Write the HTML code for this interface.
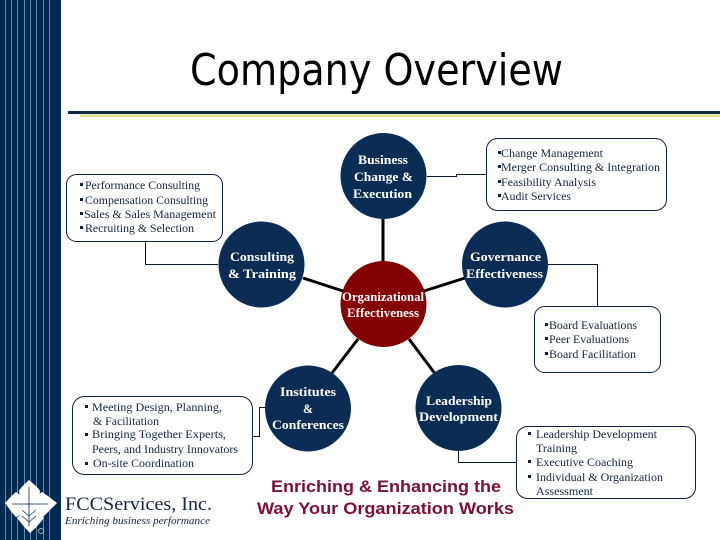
<!DOCTYPE html>
<html lang="en">
<head>
<meta charset="utf-8">
<title>Company Overview</title>
<style>
html,body{margin:0;padding:0;background:#fff;width:720px;height:540px;overflow:hidden}
svg{display:block}
.t{font-family:"Liberation Serif",serif;font-size:11.5px;fill:#14263e}
.c{font-family:"Liberation Serif",serif;font-size:13px;font-weight:bold;fill:#fff}
.s{font-family:"Liberation Sans",sans-serif;font-size:17px;font-weight:bold;fill:#7a0f3d}
.box{fill:#fff;stroke:#0d2340;stroke-width:1}
.thin{fill:none;stroke:#071a30;stroke-width:1}
.thick{fill:none;stroke:#000;stroke-width:3}
</style>
</head>
<body>
<svg xmlns="http://www.w3.org/2000/svg" width="720" height="540" viewBox="0 0 720 540">
<rect width="720" height="540" fill="#fff"/>
<rect x="0" y="0" width="61" height="540" fill="#012a52"/>
<g fill="#5f86ab">
<rect x="5" y="0" width="1" height="540"/><rect x="11" y="0" width="1" height="540"/>
<rect x="17" y="0" width="1" height="540"/><rect x="24" y="0" width="1" height="540"/>
<rect x="30" y="0" width="1" height="540"/><rect x="36" y="0" width="1" height="540"/>
<rect x="43" y="0" width="1" height="540"/><rect x="49" y="0" width="1" height="540"/>
</g>

<text x="190" y="85" font-family="'DejaVu Sans',sans-serif" font-size="44" fill="#000" textLength="373" lengthAdjust="spacingAndGlyphs">Company Overview</text>
<rect x="68" y="111" width="652" height="3" fill="#0e2a42"/>
<rect x="80" y="114.5" width="640" height="2.5" fill="#e0e188"/>

<!-- thin connectors -->
<path class="thin" d="M145.5 241V264.5H218"/>
<path class="thin" d="M427 176.5H456.5V174.5H486"/>
<path class="thin" d="M548 264.5H597.5V306"/>
<path class="thin" d="M253 436.5H259.5V407.5H266"/>
<path class="thin" d="M458.5 451V462.5H516"/>

<!-- thick spokes -->
<path class="thick" d="M383 219V262"/>
<path class="thick" d="M303 278L343 291"/>
<path class="thick" d="M465 278L424 291"/>
<path class="thick" d="M358 339L332 373"/>
<path class="thick" d="M409 339L436 375"/>

<!-- circles -->
<g fill="#0a2c55">
<circle cx="383.5" cy="176" r="43"/>
<circle cx="261.5" cy="264.5" r="43"/>
<circle cx="505" cy="264.5" r="43"/>
<circle cx="308" cy="408.5" r="43"/>
<circle cx="458.5" cy="408" r="43"/>
</g>
<circle cx="383.5" cy="304" r="43" fill="#850000"/>

<!-- boxes -->
<rect class="box" x="66.5" y="174.5" width="156" height="67" rx="10"/>
<rect class="box" x="486.5" y="138.5" width="180" height="72" rx="11"/>
<rect class="box" x="534.5" y="306.5" width="126" height="66" rx="10"/>
<rect class="box" x="72.5" y="396.5" width="180" height="78" rx="12"/>
<rect class="box" x="516.5" y="426.5" width="179" height="72" rx="11"/>

<!-- circle labels -->
<text class="c" x="358" y="164" textLength="50" lengthAdjust="spacingAndGlyphs">Business</text>
<text class="c" x="354" y="181" textLength="59" lengthAdjust="spacingAndGlyphs">Change &amp;</text>
<text class="c" x="353" y="198" textLength="59" lengthAdjust="spacingAndGlyphs">Execution</text>
<text class="c" x="230" y="261" textLength="64" lengthAdjust="spacingAndGlyphs">Consulting</text>
<text class="c" x="228" y="278" textLength="68" lengthAdjust="spacingAndGlyphs">&amp; Training</text>
<text class="c" x="470" y="261" textLength="71" lengthAdjust="spacingAndGlyphs">Governance</text>
<text class="c" x="466" y="278" textLength="77" lengthAdjust="spacingAndGlyphs">Effectiveness</text>
<text class="c" x="342" y="301" textLength="82" lengthAdjust="spacingAndGlyphs">Organizational</text>
<text class="c" x="347" y="317" textLength="72" lengthAdjust="spacingAndGlyphs">Effectiveness</text>
<text class="c" x="280" y="396" textLength="56" lengthAdjust="spacingAndGlyphs">Institutes</text>
<text class="c" x="303" y="413" textLength="10" lengthAdjust="spacingAndGlyphs">&amp;</text>
<text class="c" x="272" y="429" textLength="72" lengthAdjust="spacingAndGlyphs">Conferences</text>
<text class="c" x="426" y="405" textLength="66" lengthAdjust="spacingAndGlyphs">Leadership</text>
<text class="c" x="419" y="421" textLength="79" lengthAdjust="spacingAndGlyphs">Development</text>

<!-- bullets -->
<g fill="#0d2038">
<rect x="80" y="183" width="3" height="3"/><rect x="80" y="198" width="3" height="3"/><rect x="80" y="212" width="3" height="3"/><rect x="80" y="226" width="3" height="3"/>
<rect x="498" y="151" width="3" height="3"/><rect x="498" y="165" width="3" height="3"/><rect x="498" y="180" width="3" height="3"/><rect x="498" y="194" width="3" height="3"/>
<rect x="545" y="323" width="3" height="3"/><rect x="545" y="337" width="3" height="3"/><rect x="545" y="352" width="3" height="3"/>
<rect x="85" y="405" width="3" height="3"/><rect x="85" y="433" width="3" height="3"/><rect x="85" y="462" width="3" height="3"/>
<rect x="528" y="432" width="3" height="3"/><rect x="528" y="460" width="3" height="3"/><rect x="528" y="475" width="3" height="3"/>
</g>

<!-- box text -->
<text class="t" x="85" y="189" textLength="115" lengthAdjust="spacingAndGlyphs">Performance Consulting</text>
<text class="t" x="85" y="204" textLength="123" lengthAdjust="spacingAndGlyphs">Compensation Consulting</text>
<text class="t" x="84" y="218" textLength="132" lengthAdjust="spacingAndGlyphs">Sales &amp; Sales Management</text>
<text class="t" x="85" y="232" textLength="109" lengthAdjust="spacingAndGlyphs">Recruiting &amp; Selection</text>

<text class="t" x="501" y="157" textLength="102" lengthAdjust="spacingAndGlyphs">Change Management</text>
<text class="t" x="501" y="171" textLength="159" lengthAdjust="spacingAndGlyphs">Merger Consulting &amp; Integration</text>
<text class="t" x="501" y="186" textLength="95" lengthAdjust="spacingAndGlyphs">Feasibility Analysis</text>
<text class="t" x="501" y="200" textLength="70" lengthAdjust="spacingAndGlyphs">Audit Services</text>

<text class="t" x="549" y="329" textLength="88" lengthAdjust="spacingAndGlyphs">Board Evaluations</text>
<text class="t" x="549" y="343" textLength="80" lengthAdjust="spacingAndGlyphs">Peer Evaluations</text>
<text class="t" x="549" y="358" textLength="87" lengthAdjust="spacingAndGlyphs">Board Facilitation</text>

<text class="t" x="92" y="411" textLength="130" lengthAdjust="spacingAndGlyphs">Meeting Design, Planning,</text>
<text class="t" x="93" y="425" textLength="66" lengthAdjust="spacingAndGlyphs">&amp; Facilitation</text>
<text class="t" x="92" y="438" textLength="134" lengthAdjust="spacingAndGlyphs">Bringing Together Experts,</text>
<text class="t" x="92" y="453" textLength="146" lengthAdjust="spacingAndGlyphs">Peers, and Industry Innovators</text>
<text class="t" x="93" y="467" textLength="101" lengthAdjust="spacingAndGlyphs">On-site Coordination</text>

<text class="t" x="536" y="438" textLength="121" lengthAdjust="spacingAndGlyphs">Leadership Development</text>
<text class="t" x="536" y="452" textLength="41" lengthAdjust="spacingAndGlyphs">Training</text>
<text class="t" x="536" y="466" textLength="97" lengthAdjust="spacingAndGlyphs">Executive Coaching</text>
<text class="t" x="536" y="481" textLength="127" lengthAdjust="spacingAndGlyphs">Individual &amp; Organization</text>
<text class="t" x="536" y="495" textLength="57" lengthAdjust="spacingAndGlyphs">Assessment</text>

<!-- slogan -->
<text class="s" x="271" y="492" textLength="230" lengthAdjust="spacingAndGlyphs">Enriching &amp; Enhancing the</text>
<text class="s" x="257" y="514" textLength="257" lengthAdjust="spacingAndGlyphs">Way Your Organization Works</text>

<!-- logo -->
<g fill="#fff">
<path d="M29 505C24 502 19 497 19 491C21 487 26 483 29 480C32 483 38 487 40 491C40 497 34 502 29 505Z"/>
<path d="M29 505C24 500 21 495 16 492C12 495 8 500 5 503C8 507 12 513 16 517C21 515 26 509 29 505Z"/>
<path d="M29 505C34 500 37 495 42 492C47 495 53 500 57 503C53 507 47 513 43 517C37 515 32 509 29 505Z"/>
<path d="M29 505C25 510 21 514 17 518C21 523 26 529 30 533C35 529 40 523 44 518C38 514 33 510 29 505Z"/>
</g>
<path d="M29 487V526M12 504H48" stroke="#012a52" stroke-width="0.8" fill="none"/>
<path d="M29 516L22 510M29 516L36 510M29 522L22 516M29 522L36 516" stroke="#012a52" stroke-width="0.6" fill="none"/>
<circle cx="41" cy="531" r="2.5" fill="none" stroke="#cfd8e3" stroke-width="0.7"/>

<text x="65" y="510" font-family="'Liberation Serif',serif" font-size="19" fill="#14263e" textLength="147" lengthAdjust="spacingAndGlyphs">FCCServices, Inc.</text>
<text x="65" y="524" font-family="'Liberation Serif',serif" font-size="10.5" font-style="italic" fill="#14263e" textLength="145" lengthAdjust="spacingAndGlyphs">Enriching business performance</text>
</svg>
</body>
</html>
